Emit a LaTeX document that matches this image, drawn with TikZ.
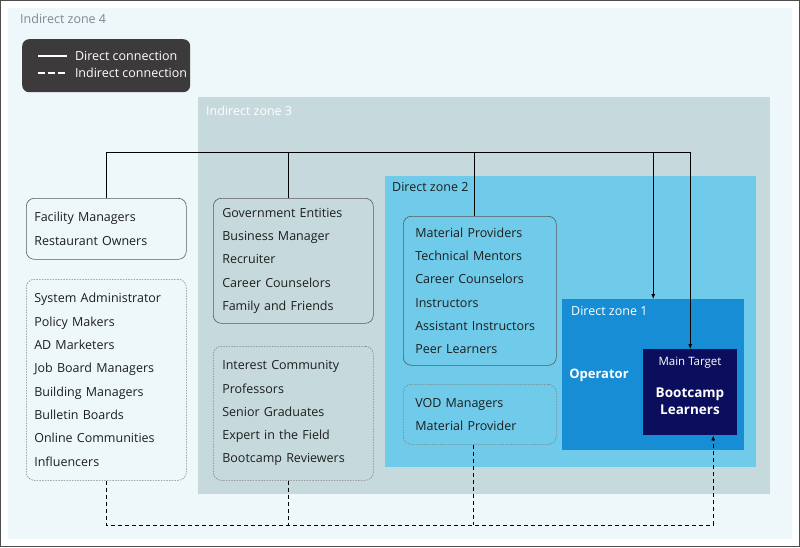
\documentclass[tikz,border=0pt]{standalone}
\usepackage{fontspec}
\setmainfont{Open Sans}
\usepackage{tikz}
\usetikzlibrary{positioning, calc, arrows.meta}

\definecolor{zfour}{HTML}{EEF7FA}
\definecolor{zthree}{HTML}{C6D9DD}
\definecolor{ztwo}{HTML}{6FCBE9}
\definecolor{zone}{HTML}{168DD5}
\definecolor{target}{HTML}{0B0E5C}
\definecolor{legendbg}{HTML}{3C3A3A}
\definecolor{inktxt}{HTML}{1E1E1E}
\definecolor{zlabel}{HTML}{7E898E}

\begin{document}
\begin{tikzpicture}[x=1pt, y=-1pt,
	zonebox/.style={anchor=north west, inner sep=0pt, draw=none},
	zonetxt/.style={anchor=north west, inner sep=0pt, font=\fontsize{12.5}{15}\selectfont},
	listbox/.style={anchor=north west, rounded corners=8pt, draw=black!65, line width=0.6pt,
		inner xsep=8pt, align=left, text=inktxt, font=\fontsize{12.5}{23.3}\selectfont},
	dlistbox/.style={listbox, draw=black!50, dash pattern=on 1.5pt off 1.2pt},
	conn/.style={draw=black, line width=0.8pt},
	dconn/.style={draw=black, line width=0.8pt, dash pattern=on 4pt off 3pt},
	tip/.style={-{Latex[length=5pt, width=4pt]}}]
\useasboundingbox (0,0) rectangle (800,547);
\draw[black!70, line width=1pt] (0.5,0.5) rectangle (799.5,546.5);

% zones
\node[zonebox, fill=zfour, minimum width=784pt, minimum height=531pt] (z4) at (8,8) {};
\node[zonetxt, text=zlabel] at (20,14) {Indirect zone 4};
\node[zonebox, fill=zthree, minimum width=572pt, minimum height=397pt] (z3) at (198,97) {};
\node[zonetxt, text=white] at (206,106) {Indirect zone 3};
\node[zonebox, fill=ztwo, minimum width=371pt, minimum height=291pt] (z2) at (385,176) {};
\node[zonetxt, text=inktxt] at (392,182) {Direct zone 2};
\node[zonebox, fill=zone, minimum width=182pt, minimum height=151pt] (z1) at (562,299) {};
\node[zonetxt, text=white] at (571,306) {Direct zone 1};
\node[zonebox, fill=target, minimum width=94pt, minimum height=86pt] (tgt) at (643,349) {};
\node[text=white, font=\fontsize{11.5}{14}\selectfont] at (690,363) {Main Target};
\node[text=white, align=center, font=\fontsize{13.5}{17}\selectfont\bfseries] at (690,401) {Bootcamp\\Learners};
\node[text=white, font=\fontsize{13}{16}\selectfont\bfseries] at (599,375) (op) {Operator};

% legend
\node[zonebox, fill=legendbg, rounded corners=7pt, minimum width=168pt, minimum height=53pt] (leg) at (22,39) {};
\coordinate (l1) at (38,56);
\coordinate (l2) at (38,73);
\draw[white, line width=2pt] (l1) -- ++(29,0) node[right, inner sep=0pt, xshift=7pt, font=\fontsize{12.5}{15}\selectfont] {Direct connection};
\draw[white, line width=2pt, dash pattern=on 7pt off 3pt] (l2) -- ++(29,0) node[right, inner sep=0pt, xshift=7pt, font=\fontsize{12.5}{15}\selectfont] {Indirect connection};

% groups
\node[listbox, fill=zfour, text width=144pt, minimum height=61pt] (fac) at (26,198)
	{Facility Managers\\Restaurant Owners};
\node[dlistbox, fill=zfour, text width=144pt, minimum height=201pt] (sys) at (26,279)
	{System Administrator\\Policy Makers\\AD Marketers\\Job Board Managers\\Building Managers\\Bulletin Boards\\Online Communities\\Influencers};
\node[listbox, fill=zthree, inner xsep=9pt, text width=142pt, minimum height=125pt] (gov) at (213,198)
	{Government Entities\\Business Manager\\Recruiter\\Career Counselors\\Family and Friends};
\node[dlistbox, fill=zthree, inner xsep=9pt, text width=142pt, minimum height=134pt] (com) at (213,346)
	{Interest Community\\Professors\\Senior Graduates\\Expert in the Field\\Bootcamp Reviewers};
\node[listbox, fill=ztwo, inner xsep=12pt, text width=129pt, minimum height=149pt] (mat) at (403,216)
	{Material Providers\\Technical Mentors\\Career Counselors\\Instructors\\Assistant Instructors\\Peer Learners};
\node[dlistbox, fill=ztwo, inner xsep=12pt, text width=129pt, minimum height=60pt] (vod) at (403,384)
	{VOD Managers\\Material Provider};

% direct connections
\coordinate (bus) at (0,152);
\draw[conn, tip] (fac.north) |- (tgt.north |- bus) -- (tgt.north);
\draw[conn] ([xshift=-5pt]gov.north) -- ([xshift=-5pt]gov.north |- bus);
\draw[conn] ([xshift=-5pt]mat.north) -- ([xshift=-5pt]mat.north |- bus);
\draw[conn, tip] (z1.north |- bus) -- (z1.north);

% indirect connections
\coordinate (base) at (0,525);
\draw[dconn, tip] (sys.south) |- ([xshift=23pt]tgt.south |- base) -- ([xshift=23pt]tgt.south);
\draw[dconn] ([xshift=-5pt]com.south) -- ([xshift=-5pt]com.south |- base);
\draw[dconn] ([xshift=-6pt]vod.south) -- ([xshift=-6pt]vod.south |- base);
\end{tikzpicture}
\end{document}
